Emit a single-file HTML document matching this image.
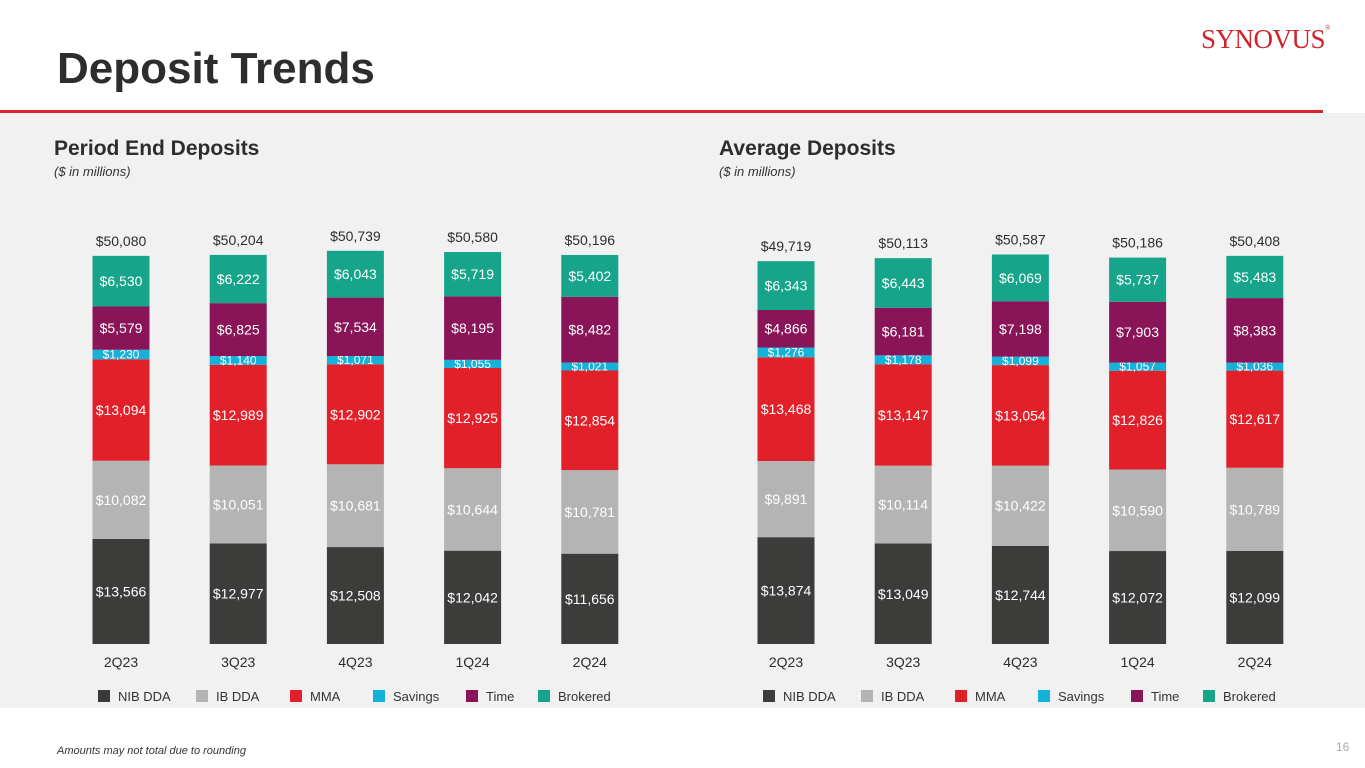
<!DOCTYPE html>
<html><head><meta charset="utf-8">
<style>
body{margin:0;width:1365px;height:768px;overflow:hidden;background:#fff;font-family:"Liberation Sans",sans-serif;position:relative}
#panel{position:absolute;left:0;top:113px;width:1365px;height:595px;background:#f1f1f1}
#title{position:absolute;left:57px;top:44px;font-size:44px;font-weight:bold;color:#2d2d2d;margin:0}
#rule{position:absolute;left:0;top:110px;width:1323px;height:3px;background:#d9262b}
#logo{position:absolute;left:1201px;top:24px;font-family:"Liberation Serif",serif;font-size:27px;color:#d1232a;letter-spacing:-0.5px}
#foot{position:absolute;left:57px;top:745px;font-size:11px;font-style:italic;color:#333}
#pg{position:absolute;left:1336px;top:740px;font-size:12px;color:#aaa}
svg{position:absolute;left:0;top:0}
</style></head><body>
<div id="panel"></div>
<h1 id="title">Deposit Trends</h1>
<div id="rule"></div>
<div id="logo">SYNOVUS<span style="font-size:7px;vertical-align:top">®</span></div>
<div id="foot">Amounts may not total due to rounding</div>
<div id="pg">16</div>
<svg id="chart" width="1365" height="768"></svg>
<script>
const categories=["2Q23","3Q23","4Q23","1Q24","2Q24"];
const seriesNames=["NIB DDA","IB DDA","MMA","Savings","Time","Brokered"];
const colors=["#3c3c3b","#b4b4b4","#e2202a","#14b1d9","#8a1458","#16a58a"];
const periodNIB=[13566,12977,12508,12042,11656];
const periodIB=[10082,10051,10681,10644,10781];
const periodMMA=[13094,12989,12902,12925,12854];
const periodSav=[1230,1140,1071,1055,1021];
const periodTime=[5579,6825,7534,8195,8482];
const periodBrok=[6530,6222,6043,5719,5402];
const periodTotal=[50080,50204,50739,50580,50196];
const avgNIB=[13874,13049,12744,12072,12099];
const avgIB=[9891,10114,10422,10590,10789];
const avgMMA=[13468,13147,13054,12826,12617];
const avgSav=[1276,1178,1099,1057,1036];
const avgTime=[4866,6181,7198,7903,8383];
const avgBrok=[6343,6443,6069,5737,5483];
const avgTotal=[49719,50113,50587,50186,50408];

const svg=document.getElementById('chart');
const NS="http://www.w3.org/2000/svg";
function mk(tag,attrs,txt){const e=document.createElementNS(NS,tag);for(const k in attrs)e.setAttribute(k,attrs[k]);if(txt!==undefined)e.textContent=txt;svg.appendChild(e);return e;}
function fmt(v){return "$"+v.toLocaleString("en-US");}

function drawChart(prefix,x0,title,series,totals,scale){
  const t=mk('text',{x:x0-4,y:155,'font-size':21,'font-weight':'bold',fill:'#2d2d2d'},title);
  
  
  const s=mk('text',{x:x0-4,y:176,'font-size':13,'font-style':'italic',fill:'#333'},'($ in millions)');
  
  
  const base=644,step=117.2,bw=57,first=x0+63;
  const y=v=>v*scale;
  categories.forEach((c,i)=>{
    const cx=first+i*step;
    let top=base;
    series.forEach((arr,k)=>{
      const h=y(arr[i]);
      const r=mk('rect',{x:cx-bw/2,y:top-h,width:bw,height:h,fill:colors[k]});
      
      
      const small=k===3;
      const lbl=mk('text',{x:cx,y:top-h/2+(small?4:5),'text-anchor':'middle','font-size':small?12:14,fill:'#fff'},fmt(arr[i]));
      
      
      top-=h;
    });
    const tl=mk('text',{x:cx,y:top-10,'text-anchor':'middle','font-size':14,fill:'#2d2d2d'},fmt(totals[i]));
    
    
    const cl=mk('text',{x:cx,y:667,'text-anchor':'middle','font-size':14,fill:'#2d2d2d'},c);
    
    
  });
  const lx=[x0+40,x0+138,x0+232,x0+315,x0+408,x0+480];
  seriesNames.forEach((n,k)=>{
    const sw=mk('rect',{x:lx[k],y:690,width:12,height:12,fill:colors[k]});
    
    
    const lt=mk('text',{x:lx[k]+20,y:701,'font-size':13,fill:'#333'},n);
    
    
  });
}
drawChart('period',58,'Period End Deposits',[periodNIB,periodIB,periodMMA,periodSav,periodTime,periodBrok],periodTotal,0.00775);
drawChart('average',723,'Average Deposits',[avgNIB,avgIB,avgMMA,avgSav,avgTime,avgBrok],avgTotal,0.0077);
</script>
</body></html>
